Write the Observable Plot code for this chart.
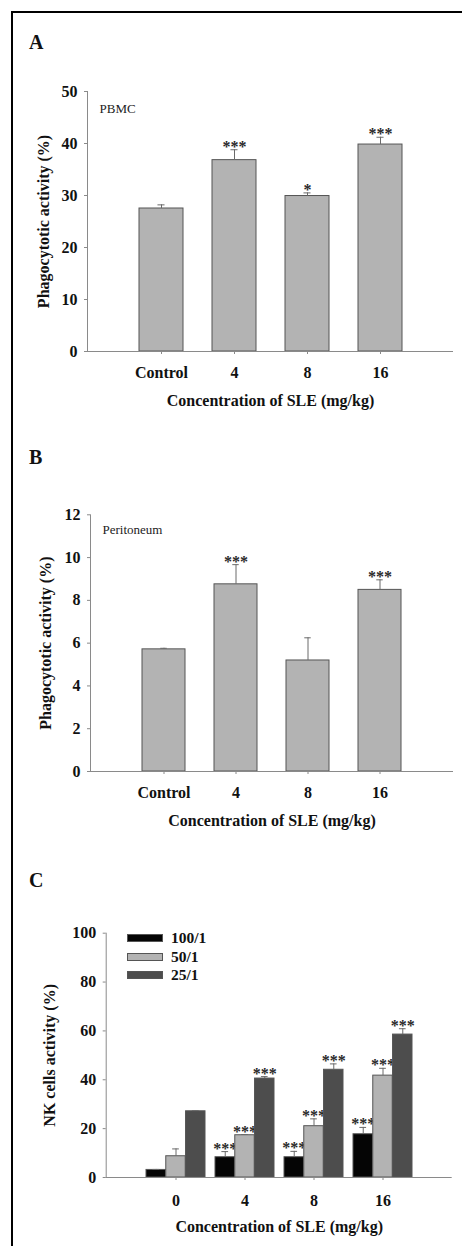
<!DOCTYPE html>
<html>
<head>
<meta charset="utf-8">
<script src="https://cdn.jsdelivr.net/npm/d3@7"></script>
<script src="https://cdn.jsdelivr.net/npm/@observablehq/plot@0.6"></script>
<style>
  html, body { margin: 0; padding: 0; background: #fff; overflow: hidden; }
  #page { position: relative; width: 462px; height: 1246px; overflow: hidden;
    font-family: "Liberation Serif", "Times New Roman", serif; color: #111; }
  .border { position: absolute; left: 11px; top: 11px; width: 451px; height: 1235px;
    border-top: 2.4px solid #000; border-left: 2.4px solid #000; box-sizing: border-box; }
  .plabel { position: absolute; left: 29px; font-weight: bold; font-size: 20px; line-height: 20px; }
  .plot { position: absolute; left: 0; }
  .sw { position: absolute; left: 127px; width: 34px; height: 6px; border: 1px solid #555; }
  .lt { position: absolute; left: 171px; font-weight: bold; font-size: 15.5px; line-height: 16px; }
</style>
</head>
<body>
<div id="page">
  <div class="border"></div>
  <div class="plabel" style="top:32px">A</div>
  <div class="plabel" style="top:446.5px">B</div>
  <div class="plabel" style="top:869.5px">C</div>
  <div id="pa" class="plot" style="top:60px"></div>
  <div id="pb" class="plot" style="top:480px"></div>
  <div id="pc" class="plot" style="top:900px"></div>
  <div id="legend"></div>
</div>
<script>
// ---------- data ----------
const doses = ["Control", "4", "8", "16"];
const pbmcMean = [27.5, 36.8, 29.9, 39.8];
const pbmcSem  = [0.7, 2.0, 0.6, 1.4];
const pbmcSig  = ["", "***", "*", "***"];
const pbmcTicks = [0, 10, 20, 30, 40, 50];

const periMean = [5.71, 8.75, 5.19, 8.49];
const periSem  = [0.05, 0.92, 1.06, 0.47];
const periSig  = ["", "***", "", "***"];
const periTicks = [0, 2, 4, 6, 8, 10, 12];

const nkDoses = ["0", "4", "8", "16"];
const ratios = ["100/1", "50/1", "25/1"];
const nk100 = [3.1, 8.3, 8.3, 17.7];
const nk100Sem = [0.2, 2.3, 2.4, 2.8];
const nk50 = [8.7, 17.3, 21.0, 41.7];
const nk50Sem = [3.0, 0.3, 3.0, 3.0];
const nk25 = [27.1, 40.5, 44.1, 58.5];
const nk25Sem = [0.3, 0.8, 2.4, 2.4];
const nkSig = [["", "***", "***", "***"], ["", "***", "***", "***"], ["", "***", "***", "***"]];
const nkTicks = [0, 20, 40, 60, 80, 100];
const nkColors = ["#050505", "#b3b3b3", "#4d4d4d"];

// ---------- styles ----------
const FONT = "'Liberation Serif', 'Times New Roman', serif";
const AX = "#8a8a8a";
const ERR = "#6a6a6a";
const GRAY = "#b3b3b3";
const OUT = "#555";
const CAP = 7;
const STAR = "#2a2a2a";
const baseStyle = {fontFamily: FONT, fontSize: "16px", fontWeight: "bold", color: "#111", background: "transparent", overflow: "visible"};

function simplePanel(el, cfg) {
  const data = doses.map((d, i) => ({dose: d, mean: cfg.mean[i], hi: cfg.mean[i] + cfg.sem[i], sig: cfg.sig[i]}));
  const pI = 0.4, pO = 0.7;
  const bw = d3.scaleBand().domain(doses).range([cfg.mL, 462 - cfg.mR]).paddingInner(pI).paddingOuter(pO).bandwidth();
  const ci = (bw - CAP) / 2;
  const chart = Plot.plot({
    width: 462, height: cfg.height,
    marginTop: cfg.mT, marginBottom: cfg.mB, marginLeft: cfg.mL, marginRight: cfg.mR,
    style: baseStyle,
    x: {type: "band", domain: doses, paddingInner: pI, paddingOuter: pO},
    y: {domain: cfg.domain},
    marks: [
      Plot.frame({anchor: "left", stroke: AX}),
      Plot.axisY({ticks: cfg.ticks, tickSize: 3, tickPadding: 7, stroke: AX, fill: "#111",
        label: "Phagocytotic activity (%)", labelAnchor: "center", labelOffset: cfg.yLabelOffset, labelArrow: "none"}),
      Plot.axisX({tickSize: 3, tickPadding: 12, stroke: AX, fill: "#111",
        label: "Concentration of SLE (mg/kg)", labelAnchor: "center", labelOffset: 54, labelArrow: "none"}),
      Plot.barY(data, {x: "dose", y: "mean", fill: GRAY, stroke: OUT}),
      Plot.ruleX(data, {x: "dose", y1: "mean", y2: "hi", stroke: ERR}),
      Plot.tickY(data, {x: "dose", y: "hi", stroke: ERR, insetLeft: ci, insetRight: ci}),
      Plot.ruleY([0], {stroke: AX}),
      Plot.text(data, {x: "dose", y: "hi", text: "sig", lineAnchor: "bottom", dy: 2, fontSize: 16, fontWeight: "bold", fill: STAR}),
      Plot.text([cfg.name], {text: d => d, frameAnchor: "top-left", textAnchor: "start", lineAnchor: "top",
        dx: 12, dy: cfg.nameDy, fontSize: 13, fontWeight: "normal", fill: "#222"})
    ]
  });
  document.getElementById(el).append(chart);
}

simplePanel("pa", {mean: pbmcMean, sem: pbmcSem, sig: pbmcSig, ticks: pbmcTicks, domain: [0, 50],
  height: 360, mT: 31, mB: 69, mL: 87, mR: 9, yLabelOffset: 50, name: "PBMC", nameDy: 12});
simplePanel("pb", {mean: periMean, sem: periSem, sig: periSig, ticks: periTicks, domain: [0, 12],
  height: 360, mT: 34.3, mB: 69, mL: 90, mR: 9, yLabelOffset: 51, name: "Peritoneum", nameDy: 10});

// ---------- panel C ----------
{
  const means = [nk100, nk50, nk25], sems = [nk100Sem, nk50Sem, nk25Sem];
  const mL = 105.7, mR = 10.3, pI = 0.143, pO = 0.5715;
  const bw = d3.scaleBand().domain(nkDoses).range([mL, 462 - mR]).paddingInner(pI).paddingOuter(pO).bandwidth();
  const w = bw / 3;
  const marks = [
    Plot.frame({anchor: "left", stroke: AX}),
    Plot.axisY({ticks: nkTicks, tickSize: 3, tickPadding: 7, stroke: AX, fill: "#111",
      label: "NK cells activity (%)", labelAnchor: "center", labelOffset: 63, labelArrow: "none"}),
    Plot.axisX({tickSize: 3, tickPadding: 14, stroke: AX, fill: "#111",
      label: "Concentration of SLE (mg/kg)", labelAnchor: "center", labelOffset: 54, labelArrow: "none"})
  ];
  ratios.forEach((r, k) => {
    const data = nkDoses.map((d, i) => ({dose: d, ratio: r, value: means[k][i], hi: means[k][i] + sems[k][i], sig: nkSig[k][i]}));
    const cl = k * w + (w - CAP) / 2, cr = (2 - k) * w + (w - CAP) / 2;
    marks.push(
      Plot.barY(data, {x: "dose", y: "value", fill: nkColors[k], stroke: OUT, insetLeft: k * w, insetRight: (2 - k) * w}),
      Plot.ruleX(data, {x: "dose", y1: "value", y2: "hi", dx: (k - 1) * w, stroke: ERR}),
      Plot.tickY(data, {x: "dose", y: "hi", stroke: ERR, insetLeft: cl, insetRight: cr}),
      Plot.text(data, {x: "dose", y: "hi", text: "sig", dx: (k - 1) * w, lineAnchor: "bottom", dy: 2, fontSize: 16, fontWeight: "bold", fill: STAR})
    );
  });
  marks.push(Plot.ruleY([0], {stroke: AX}));
  const chart = Plot.plot({
    width: 462, height: 346,
    marginTop: 32.7, marginBottom: 69, marginLeft: mL, marginRight: mR,
    style: baseStyle,
    x: {type: "band", domain: nkDoses, paddingInner: pI, paddingOuter: pO},
    y: {domain: [0, 100]},
    marks
  });
  document.getElementById("pc").append(chart);

  // legend
  const legend = document.getElementById("legend");
  const centers = [938, 956.7, 975.3];
  ratios.forEach((r, k) => {
    const sw = document.createElement("div");
    sw.className = "sw";
    sw.style.top = (centers[k] - 4) + "px";
    sw.style.background = nkColors[k];
    legend.append(sw);
    const t = document.createElement("div");
    t.className = "lt";
    t.style.top = (centers[k] - 8) + "px";
    t.textContent = r;
    legend.append(t);
  });
}
</script>
</body>
</html>
